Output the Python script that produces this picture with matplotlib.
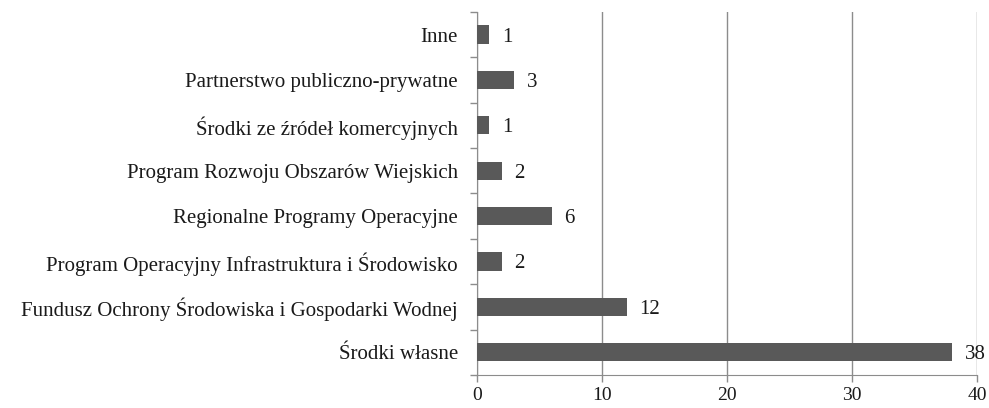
import numpy as np
from matplotlib import pyplot as plt
from matplotlib.ticker import FixedLocator, NullFormatter

plt.rcParams['font.family'] = ['Liberation Serif', 'DejaVu Serif']

categories = ['Środki własne',
              'Fundusz Ochrony Środowiska i Gospodarki Wodnej',
              'Program Operacyjny Infrastruktura i Środowisko',
              'Regionalne Programy Operacyjne',
              'Program Rozwoju Obszarów Wiejskich',
              'Środki ze źródeł komercyjnych',
              'Partnerstwo publiczno-prywatne',
              'Inne']
values = [38, 12, 2, 6, 2, 1, 3, 1]
xticks = [0, 10, 20, 30, 40]

grey = '#8c8c8c'
fs = 15
fig = plt.figure(figsize=(9.89, 4.08), dpi=100)
ax = fig.add_axes([0.482, 0.081, 0.506, 0.89])

pos = np.arange(len(categories))
ax.barh(pos, values, height=0.4, color='#595959', zorder=3)
for p, v in zip(pos, values):
    ax.text(v + 1.0, p, str(v), va='center_baseline', ha='left', fontsize=fs, color='#1a1a1a')

ax.set_xlim(0, 40)
ax.set_ylim(-0.5, len(categories) - 0.5)
ax.set_xticks(xticks)
ax.set_yticks(pos)
ax.set_yticklabels(categories)
ax.yaxis.set_minor_locator(FixedLocator(np.arange(-0.5, len(categories), 1)))
ax.yaxis.set_minor_formatter(NullFormatter())
ax.tick_params(axis='y', which='major', length=0, pad=13.5, labelsize=fs, labelcolor='#1a1a1a')
ax.tick_params(axis='y', which='minor', length=5, color=grey, width=1)
ax.tick_params(axis='x', length=5, color=grey, width=1, labelsize=14, labelcolor='#1a1a1a', pad=4)
ax.grid(axis='x', color=grey, linewidth=1, zorder=0)
for s in ['top', 'right']:
    ax.spines[s].set_visible(False)
ax.spines['left'].set_color(grey)
ax.spines['bottom'].set_color(grey)

fig.savefig('out.png', dpi=100)
